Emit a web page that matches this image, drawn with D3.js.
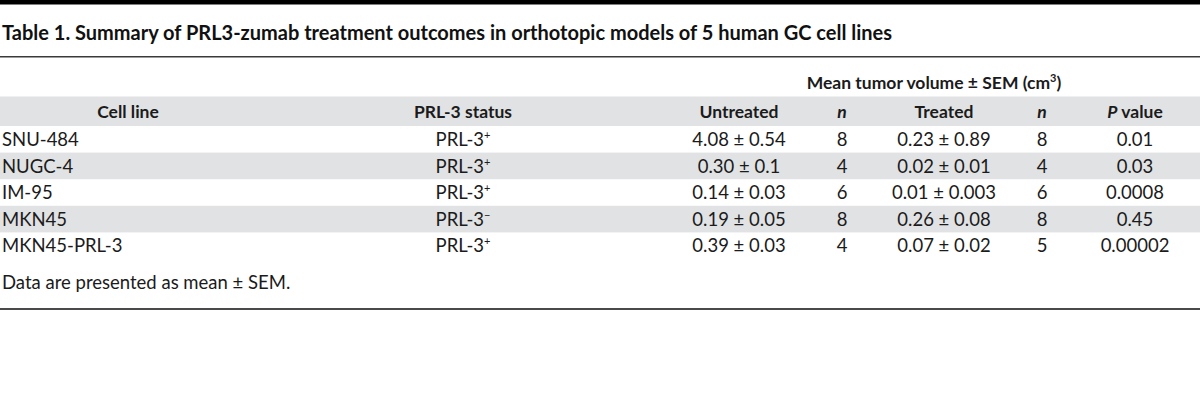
<!DOCTYPE html>
<html><head><meta charset="utf-8">
<script src="https://cdn.jsdelivr.net/npm/d3@7"></script>
<style>body{margin:0;background:#fff}svg{display:block}</style>
</head><body>
<script>
// ---- data ----
const titleText = "Table 1. Summary of PRL3-zumab treatment outcomes in orthotopic models of 5 human GC cell lines";
const footnote = "Data are presented as mean \u00b1 SEM.";
const cellLines = ["SNU-484","NUGC-4","IM-95","MKN45","MKN45-PRL-3"];
const prlStatus = ["+","+","+","\u2212","+"];
const untreated = ["4.08 \u00b1 0.54","0.30 \u00b1 0.1","0.14 \u00b1 0.03","0.19 \u00b1 0.05","0.39 \u00b1 0.03"];
const nUntreated = [8,4,6,8,4];
const treated = ["0.23 \u00b1 0.89","0.02 \u00b1 0.01","0.01 \u00b1 0.003","0.26 \u00b1 0.08","0.07 \u00b1 0.02"];
const nTreated = [8,4,6,8,5];
const pValues = ["0.01","0.03","0.0008","0.45","0.00002"];
const columnKeys = ["cell","status","untreated","n1","treated","n2","p"];

// ---- layout ----
const W = 1200, H = 418;
const FONT = "Lato, 'Open Sans', sans-serif";
const TXT = "#1b1b1b", BAND = "#e1e2e4";
const svg = d3.select("body").append("svg").attr("width",W).attr("height",H);

const x = d3.scaleOrdinal().domain(columnKeys).range([128, 463, 739, 842, 944, 1042, 1135]);
const y = d3.scaleBand().domain(d3.range(cellLines.length)).range([126, 259]).paddingInner(0).paddingOuter(0);

// top black bar
svg.append("rect").attr("x",0).attr("y",0).attr("width",W).attr("height",4.5).attr("fill","#000");
// title
svg.append("text").attr("x",2).attr("y",40).attr("font-family",FONT).attr("font-weight","bold")
  .attr("font-size",20).attr("fill","#111").text(titleText);
svg.append("rect").attr("x",0).attr("y",56).attr("width",W).attr("height",1.5).attr("fill","#3a3a3a");

// spanning header
const mh = svg.append("text").attr("x",934).attr("y",89).attr("text-anchor","middle")
  .attr("font-family",FONT).attr("font-weight","bold").attr("font-size",17.5).attr("fill",TXT);
mh.append("tspan").text("Mean tumor volume \u00b1 SEM (cm");
mh.append("tspan").attr("font-size",11).attr("dy",-7).text("3");
mh.append("tspan").attr("dy",7).text(")");

// header band
svg.append("rect").attr("x",0).attr("y",96.5).attr("width",W).attr("height",29.5).attr("fill",BAND);
const headers = [
  {k:"cell", parts:[["Cell line",false]]},
  {k:"status", parts:[["PRL-3 status",false]]},
  {k:"untreated", parts:[["Untreated",false]]},
  {k:"n1", parts:[["n",true]]},
  {k:"treated", parts:[["Treated",false]]},
  {k:"n2", parts:[["n",true]]},
  {k:"p", parts:[["P",true],[" value",false]]}
];
headers.forEach(h=>{
  const t = svg.append("text").attr("x",x(h.k)).attr("y",118).attr("text-anchor","middle")
    .attr("font-family",FONT).attr("font-weight","bold").attr("font-size",17.5).attr("fill",TXT);
  h.parts.forEach(p=>t.append("tspan").attr("font-style",p[1]?"italic":"normal").text(p[0]));
});

// row bands
svg.selectAll("rect.band").data(d3.range(cellLines.length).filter(i=>i%2===1)).join("rect")
  .attr("class","band").attr("x",0).attr("y",i=>y(i)).attr("width",W).attr("height",y.bandwidth()).attr("fill",BAND);

const rows = svg.selectAll("g.row").data(d3.range(cellLines.length)).join("g")
  .attr("class","row").attr("transform",i=>`translate(0,${y(i)+y.bandwidth()/2+6.6})`)
  .attr("font-family",FONT).attr("font-size",18.5).attr("fill",TXT);

rows.append("text").attr("x",2).text(i=>cellLines[i]);
const st = rows.append("text").attr("x",x("status")).attr("text-anchor","middle");
st.append("tspan").text("PRL-3");
st.append("tspan").attr("font-size",11).attr("dy",-7).text(i=>prlStatus[i]);
rows.append("text").attr("x",x("untreated")).attr("text-anchor","middle").text(i=>untreated[i]);
rows.append("text").attr("x",x("n1")).attr("text-anchor","middle").text(i=>nUntreated[i]);
rows.append("text").attr("x",x("treated")).attr("text-anchor","middle").text(i=>treated[i]);
rows.append("text").attr("x",x("n2")).attr("text-anchor","middle").text(i=>nTreated[i]);
rows.append("text").attr("x",x("p")).attr("text-anchor","middle").text(i=>pValues[i]);

// footnote
svg.append("text").attr("x",2).attr("y",288.5).attr("font-family",FONT).attr("font-size",18.5)
  .attr("fill",TXT).text(footnote);
svg.append("rect").attr("x",0).attr("y",308).attr("width",W).attr("height",2).attr("fill","#4a4a4a");
</script>
</body></html>
